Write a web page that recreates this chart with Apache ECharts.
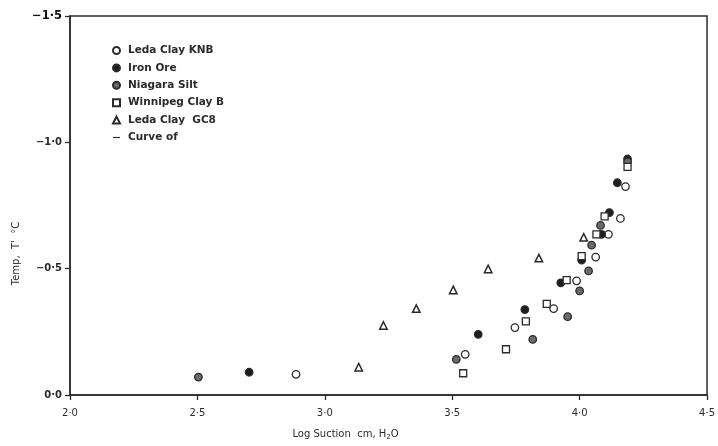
<!DOCTYPE html>
<html>
<head>
<meta charset="utf-8">
<script src="https://cdn.jsdelivr.net/npm/echarts@6/dist/echarts.min.js"></script>
<style>
  html, body { margin: 0; padding: 0; background: #fff; }
  #chart { width: 718px; height: 446px; }
</style>
</head>
<body>
<div id="chart"></div>
<script>
// Log suction (cm H2O) vs freezing temperature T' (°C) for several soils
const ledaClayKNB = [
  [2.887, -0.082], [3.551, -0.161], [3.746, -0.267], [3.898, -0.342], [3.988, -0.452],
  [4.063, -0.546], [4.113, -0.636], [4.160, -0.699], [4.180, -0.825]
];
const ironOre = [
  [2.703, -0.090], [3.602, -0.240], [3.785, -0.338], [3.926, -0.444], [4.008, -0.534],
  [4.086, -0.636], [4.117, -0.722], [4.148, -0.840], [4.188, -0.934]
];
const niagaraSilt = [
  [2.504, -0.071], [3.516, -0.141], [3.816, -0.220], [3.953, -0.310], [4.000, -0.412],
  [4.035, -0.491], [4.047, -0.593], [4.082, -0.671], [4.188, -0.923]
];
const winnipegClayB = [
  [3.543, -0.086], [3.711, -0.181], [3.789, -0.291], [3.871, -0.361], [3.949, -0.455],
  [4.008, -0.550], [4.066, -0.636], [4.098, -0.707], [4.188, -0.903]
];
const ledaClayGC8 = [
  [3.133, -0.110], [3.230, -0.275], [3.359, -0.342], [3.504, -0.416], [3.641, -0.499],
  [3.840, -0.542], [4.016, -0.624]
];
const seriesNames = ['Leda Clay KNB', 'Iron Ore', 'Niagara Silt', 'Winnipeg Clay B', 'Leda Clay  GC8', 'Curve of'];
const xTicks = [2.0, 2.5, 3.0, 3.5, 4.0, 4.5];
const yTicks = [-1.5, -1.0, -0.5, 0.0];

const ink = '#2b2b2b';
const font = 'DejaVu Sans';
const dotNum = v => v.toFixed(1).replace('.', '·');

const chart = echarts.init(document.getElementById('chart'), null, { renderer: 'canvas' });

const scatter = (name, data, symbol, size, style) => ({
  name, type: 'scatter', data, symbol, symbolSize: size,
  itemStyle: Object.assign({ borderColor: ink, borderWidth: 1.3, opacity: 1 }, style),
  emphasis: { disabled: true }
});

chart.setOption({
  animation: false,
  backgroundColor: '#fff',
  textStyle: { fontFamily: font, color: ink },
  grid: {
    left: 70, right: 9, top: 16, bottom: 48,
    show: true, borderColor: ink, borderWidth: 1.5, backgroundColor: 'transparent'
  },
  legend: {
    orient: 'vertical', left: 107, top: 40,
    itemWidth: 7, itemHeight: 7, itemGap: 6.4,
    textStyle: { fontFamily: font, fontWeight: 'bold', fontSize: 10.5, color: ink, padding: [0, 0, 0, 3] },
    selectedMode: false,
    data: [
      { name: seriesNames[0] },
      { name: seriesNames[1] },
      { name: seriesNames[2] },
      { name: seriesNames[3] },
      { name: seriesNames[4] },
      { name: seriesNames[5], icon: 'path://M0,0L10,0L10,1.6L0,1.6Z' }
    ]
  },
  xAxis: {
    type: 'value', min: xTicks[0], max: xTicks[xTicks.length - 1], interval: 0.5,
    name: 'Log Suction  cm, H{sub|2}O', nameLocation: 'middle', nameGap: 33,
    nameTextStyle: {
      fontFamily: font, fontSize: 10, color: ink, padding: [0, 86, 0, 0],
      rich: { sub: { fontSize: 7, verticalAlign: 'bottom', padding: [6, 0, 0, 0] } }
    },
    axisLine: { lineStyle: { color: ink, width: 1.5 } },
    axisTick: { show: true, length: 5, lineStyle: { color: ink, width: 1.3 } },
    axisLabel: { margin: 13, fontFamily: font, fontSize: 10, color: ink, formatter: v => dotNum(v) },
    splitLine: { show: false }
  },
  yAxis: {
    type: 'value', min: yTicks[0], max: yTicks[yTicks.length - 1], interval: 0.5, inverse: true,
    name: "Temp,  T'  °C", nameLocation: 'middle', nameGap: 46, nameRotate: 90,
    nameTextStyle: { fontFamily: font, fontSize: 10, color: ink, padding: [0, 96, 0, 0] },
    axisLine: { lineStyle: { color: ink, width: 1.5 } },
    axisTick: { show: true, length: 5, lineStyle: { color: ink, width: 1.3 } },
    axisLabel: {
      margin: 8, fontFamily: font, fontSize: 10, fontWeight: 'bold', color: ink,
      formatter: v => {
        const s = v === 0 ? '0·0' : '−' + dotNum(Math.abs(v));
        return v === yTicks[0] ? '{big|' + s + '}' : s;
      },
      rich: { big: { fontFamily: font, fontSize: 11.5, fontWeight: 'bold', color: '#111' } }
    },
    splitLine: { show: false }
  },
  series: [
    scatter(seriesNames[0], ledaClayKNB, 'circle', 7.5, { color: '#fff' }),
    scatter(seriesNames[1], ironOre, 'circle', 7.5, { color: '#1e1e1e' }),
    scatter(seriesNames[2], niagaraSilt, 'circle', 7.5, { color: '#6a6a6a' }),
    scatter(seriesNames[3], winnipegClayB, 'rect', 7, { color: '#fff' }),
    scatter(seriesNames[4], ledaClayGC8, 'triangle', 7.5, { color: '#fff', borderWidth: 1.5 }),
    {
      name: seriesNames[5], type: 'line', data: [], symbol: 'none',
      lineStyle: { color: ink, width: 1.5 }, itemStyle: { color: ink }
    }
  ]
});
</script>
</body>
</html>
